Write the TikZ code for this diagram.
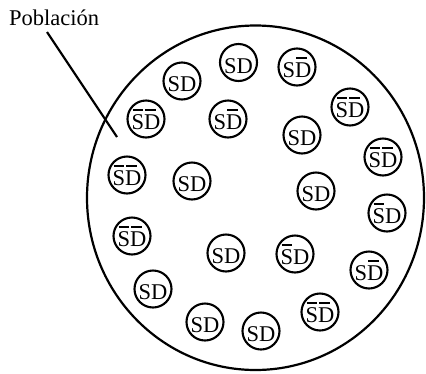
\documentclass[tikz,border=0pt]{standalone}
\usepackage{fontspec}
\setmainfont{Liberation Serif}
\usetikzlibrary{shapes.geometric}
\newsavebox\myBarBox
\newcommand{\barletter}[2]{\sbox\myBarBox{#1}\rlap{\hbox to\wd\myBarBox{\hskip 0pt plus 1fil\rule[19pt]{10.5pt}{2.3pt}\hskip #2 plus 1fil}}\usebox\myBarBox}
\newcommand{\ovS}{\barletter{S}{0pt}}
\newcommand{\ovD}{\barletter{D}{4pt}}
\tikzset{
  ind/.style={draw, circle, line width=2.1pt, minimum size=37pt, inner sep=0pt,
    text height=21.6pt, text depth=0pt, font=\fontsize{22.5}{26}\selectfont},
  pop/.style={draw, ellipse, line width=2.2pt, minimum width=337pt, minimum height=344.5pt, inner sep=0pt},
  lbl/.style={inner sep=0pt, anchor=base west, font=\fontsize{22.5}{26}\selectfont},
  pointer/.style={line width=2.1pt}
}
\begin{document}
\begin{tikzpicture}[x=1pt,y=-1pt]
\useasboundingbox (0,0) rectangle (426,373);
\node[pop] (P) at (255.5,197.75) {};
\node[lbl] (lab) at (9,25) {Población};
\coordinate (l1) at (47,32);
\coordinate (l2) at (117,137);
\draw[pointer] (l1) -- (l2);
% individuals
\node[ind] (c1)  at (238.5,62.5) {SD};
\node[ind] (c2)  at (297,67)  {S\ovD};
\node[ind] (c3)  at (182,81)  {SD};
\node[ind] (c4)  at (146,119) {\ovS\ovD};
\node[ind] (c5)  at (228,119) {S\ovD};
\node[ind] (c6)  at (350,107) {\ovS\ovD};
\node[ind] (c7)  at (302,135) {SD};
\node[ind] (c8)  at (383,157) {\ovS\ovD};
\node[ind] (c9)  at (127,175) {\ovS\ovD};
\node[ind] (c10) at (192,181) {SD};
\node[ind] (c11) at (316,191) {SD};
\node[ind] (c12) at (387,213) {\ovS D};
\node[ind] (c13) at (132,236) {\ovS\ovD};
\node[ind] (c14) at (226,253) {SD};
\node[ind] (c15) at (295,254) {\ovS D};
\node[ind] (c16) at (369,270) {S\ovD};
\node[ind] (c17) at (153,289) {SD};
\node[ind] (c18) at (205,322) {SD};
\node[ind] (c19) at (261,331) {SD};
\node[ind] (c20) at (320,312) {\ovS\ovD};
\end{tikzpicture}
\end{document}
